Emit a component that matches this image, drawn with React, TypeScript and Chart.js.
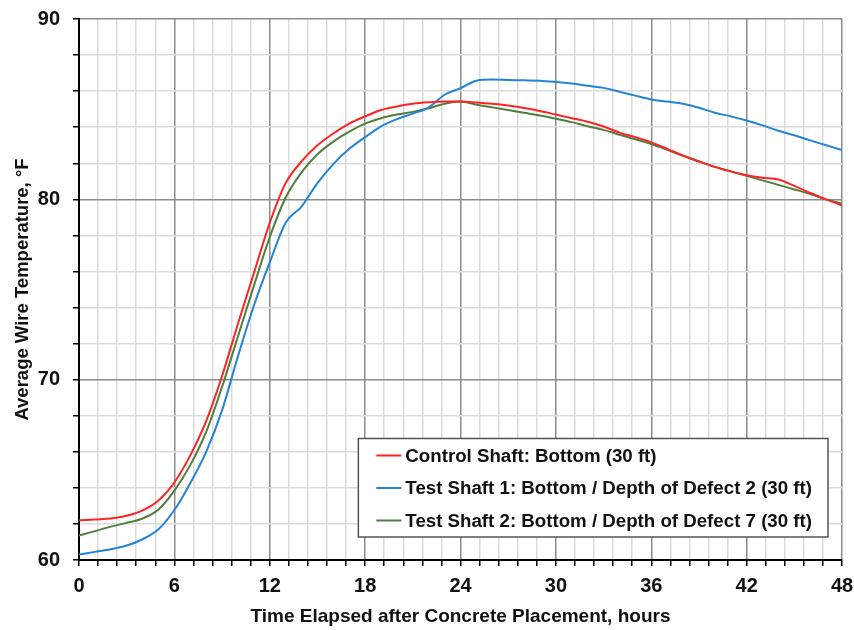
import React, { useEffect, useRef } from "react";
import { Chart, registerables } from "chart.js";

Chart.register(...registerables);

const hours = [
  0, 1, 2, 3, 4, 5, 6, 7, 8, 9, 10, 11, 12, 13, 14, 15, 16, 17, 18, 19, 20, 21, 22, 23, 24,
  25, 26, 27, 28, 29, 30, 31, 32, 33, 34, 35, 36, 37, 38, 39, 40, 41, 42, 43, 44, 45, 46, 47, 48,
];

const controlShaft = [
  62.2, 62.25, 62.3, 62.45, 62.75, 63.3, 64.3, 65.8, 67.7, 70.2, 73.1, 75.9, 78.7, 80.9, 82.1,
  83.0, 83.65, 84.2, 84.6, 84.95, 85.15, 85.3, 85.38, 85.42, 85.42, 85.37, 85.3, 85.2, 85.07,
  84.9, 84.7, 84.5, 84.3, 84.04, 83.7, 83.45, 83.16, 82.8, 82.42, 82.1, 81.8, 81.55, 81.34,
  81.2, 81.1, 80.75, 80.35, 80.0, 79.67,
];

const testShaft1 = [
  60.3, 60.45, 60.6, 60.8, 61.15, 61.7, 62.77, 64.26, 66.0, 68.3, 71.3, 74.1, 76.5, 78.7, 79.6,
  80.9, 81.95, 82.8, 83.45, 84.05, 84.45, 84.75, 85.1, 85.8, 86.16, 86.58, 86.64, 86.62, 86.6,
  86.58, 86.51, 86.42, 86.3, 86.18, 85.97, 85.75, 85.54, 85.42, 85.3, 85.08, 84.8, 84.6, 84.37,
  84.1, 83.8, 83.55, 83.27, 83.0, 82.73,
];

const testShaft2 = [
  61.35, 61.6, 61.85, 62.06, 62.3, 62.8, 63.85, 65.26, 67.1, 69.6, 72.4, 75.2, 77.9, 80.1, 81.5,
  82.5, 83.2, 83.75, 84.2, 84.5, 84.7, 84.85, 85.05, 85.3, 85.42, 85.25, 85.1, 84.95, 84.8,
  84.65, 84.47, 84.28, 84.05, 83.85, 83.58, 83.33, 83.07, 82.75, 82.42, 82.1, 81.8, 81.55, 81.3,
  81.05, 80.8, 80.55, 80.3, 80.0, 79.76,
];

const seriesLabels = [
  "Control Shaft: Bottom (30 ft)",
  "Test Shaft 1: Bottom / Depth of Defect 2 (30 ft)",
  "Test Shaft 2: Bottom / Depth of Defect 7 (30 ft)",
];
const seriesColors = ["#ff2323", "#2383d6", "#537d3e"];

const xTickLabels = [0, 6, 12, 18, 24, 30, 36, 42, 48];
const yTickLabels = [60, 70, 80, 90];

const xTitle = "Time Elapsed after Concrete Placement, hours";
const yTitle = "Average Wire Temperature, °F";

const FONT = "'Liberation Sans', Arial, sans-serif";

const near = (a: number, b: number) => Math.abs(a - b) < 1e-6;
const isXLabel = (v: number) => xTickLabels.some((t) => near(t, v));
const isYLabel = (v: number) => yTickLabels.some((t) => near(t, v));

const boxLegend = {
  id: "boxLegend",
  afterDraw(chart: any) {
    const { ctx, chartArea } = chart;
    const datasets = chart.data.datasets;
    ctx.save();
    ctx.font = `bold 18.7px ${FONT}`;
    let maxW = 0;
    datasets.forEach((d: any) => {
      maxW = Math.max(maxW, ctx.measureText(d.label).width);
    });
    const rowH = 32.5;
    const w = 47 + maxW + 16;
    const h = rowH * datasets.length + 1;
    const right = chartArea.right - 14;
    const bottom = chartArea.bottom - 23;
    const left = right - w;
    const top = bottom - h;
    ctx.fillStyle = "#ffffff";
    ctx.fillRect(left, top, w, h);
    ctx.strokeStyle = "#555555";
    ctx.lineWidth = 1.5;
    ctx.strokeRect(left, top, w, h);
    datasets.forEach((d: any, i: number) => {
      const cy = top + 17 + i * rowH;
      ctx.strokeStyle = d.borderColor;
      ctx.lineWidth = 2;
      ctx.beginPath();
      ctx.moveTo(left + 18, cy);
      ctx.lineTo(left + 43, cy);
      ctx.stroke();
      ctx.fillStyle = "#111111";
      ctx.textBaseline = "middle";
      ctx.textAlign = "left";
      ctx.fillText(d.label, left + 47, cy + 1);
    });
    ctx.restore();
  },
};

export default function App() {
  const canvasRef = useRef<HTMLCanvasElement | null>(null);

  useEffect(() => {
    document.body.style.margin = "0";
    const canvas = canvasRef.current;
    if (!canvas) return;
    const series = [controlShaft, testShaft1, testShaft2];
    const chart = new Chart(canvas, {
      type: "line",
      data: {
        datasets: series.map((vals, i) => ({
          label: seriesLabels[i],
          data: hours.map((h, j) => ({ x: h, y: vals[j] })),
          borderColor: seriesColors[i],
          backgroundColor: seriesColors[i],
          borderWidth: 2,
          pointRadius: 0,
          cubicInterpolationMode: "monotone",
          fill: false,
        })),
      },
      options: {
        responsive: false,
        animation: false,
        devicePixelRatio: 1,
        layout: { padding: { top: 19, right: 12, left: 0, bottom: 0 } },
        plugins: {
          legend: { display: false },
          tooltip: { enabled: false },
        },
        scales: {
          x: {
            type: "linear",
            min: 0,
            max: 48,
            ticks: {
              stepSize: 1.2,
              autoSkip: false,
              maxTicksLimit: 200,
              maxRotation: 0,
              padding: 8,
              color: "#111",
              font: { family: FONT, size: 20, weight: "bold" },
              callback: (v: any) => (isXLabel(Number(v)) ? String(Math.round(Number(v))) : ""),
            },
            grid: {
              color: (c: any) => (isXLabel(c.tick.value) ? "#8c8c8c" : "#dcdcdc"),
              lineWidth: 1.5,
              tickColor: "#000",
              tickLength: 6,
            },
            border: { color: "#000", width: 2 },
            title: {
              display: true,
              text: xTitle,
              color: "#111",
              font: { family: FONT, size: 19, weight: "bold" },
              padding: { top: 0, bottom: 2 },
            },
            afterFit: (s: any) => {
              s.height = 70;
              s.paddingLeft = 0;
              s.paddingRight = 0;
            },
          },
          y: {
            type: "linear",
            min: 60,
            max: 90,
            ticks: {
              stepSize: 2,
              autoSkip: false,
              maxTicksLimit: 200,
              padding: 13,
              color: "#111",
              font: { family: FONT, size: 20, weight: "bold" },
              callback: (v: any) => (isYLabel(Number(v)) ? String(Math.round(Number(v))) : ""),
            },
            grid: {
              color: (c: any) => (isYLabel(c.tick.value) ? "#8c8c8c" : "#dcdcdc"),
              lineWidth: 1.5,
              tickColor: "#000",
              tickLength: 6,
            },
            border: { color: "#000", width: 2 },
            title: {
              display: true,
              text: yTitle,
              color: "#111",
              font: { family: FONT, size: 18.5, weight: "bold" },
              padding: { top: 12, bottom: 0 },
            },
            afterFit: (s: any) => {
              s.width = 79;
              s.paddingTop = 0;
              s.paddingBottom = 0;
            },
          },
        },
      },
      plugins: [boxLegend],
    } as any);
    return () => chart.destroy();
  }, []);

  return (
    <div style={{ width: 854, height: 630 }}>
      <canvas ref={canvasRef} width={854} height={630} style={{ display: "block" }} />
    </div>
  );
}
